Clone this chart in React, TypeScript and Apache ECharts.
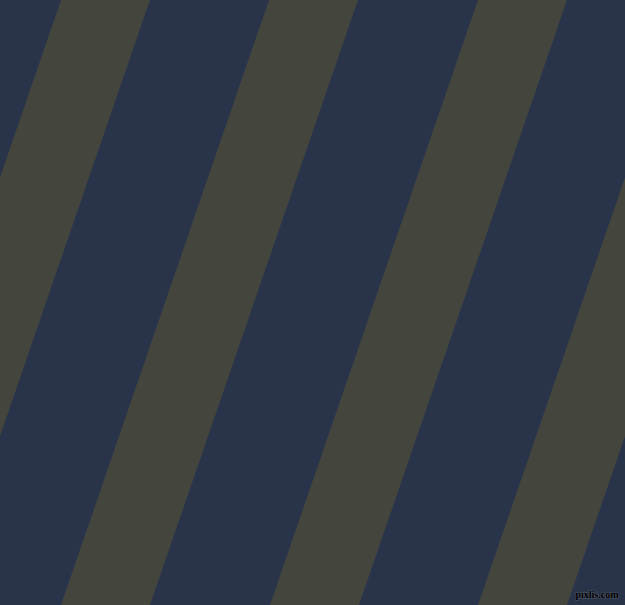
import React, { useRef, useEffect } from 'react';
import * as echarts from 'echarts';

// top edge x of each grey band (left side), in pixels from the left
const bandStarts: number[] = [-147, 61, 269, 478, 686];
// horizontal width of a grey band
const bandWidths: number[] = [89, 89, 89, 89, 89];
// how far a band drifts left between the top and the bottom
const bandDrift = 208;

const WIDTH = 625;
const HEIGHT = 605;
const NAVY = '#29344b';
const GREY = '#44463e';

const App: React.FC = () => {
    const chartRef = useRef<HTMLDivElement>(null);

    useEffect(() => {
        if (!chartRef.current) return;
        const chart = echarts.init(chartRef.current, null, { renderer: 'svg' });

        const option: echarts.EChartsOption = {
            animation: false,
            backgroundColor: NAVY,
            grid: { left: 0, right: 0, top: 0, bottom: 0 },
            xAxis: { type: 'value', min: 0, max: WIDTH, show: false },
            yAxis: { type: 'value', min: 0, max: HEIGHT, inverse: true, show: false },
            series: [
                {
                    type: 'custom',
                    clip: true,
                    data: bandStarts.map((s, i) => [s, bandWidths[i]]),
                    renderItem: (params: any, api: any) => {
                        const x0 = api.value(0);
                        const w = api.value(1);
                        const pts = [
                            api.coord([x0, 0]),
                            api.coord([x0 + w, 0]),
                            api.coord([x0 + w - bandDrift, HEIGHT]),
                            api.coord([x0 - bandDrift, HEIGHT])
                        ];
                        return {
                            type: 'polygon',
                            shape: { points: pts },
                            style: { fill: GREY }
                        };
                    }
                }
            ],
            graphic: [
                {
                    type: 'text',
                    right: 6,
                    bottom: 5,
                    style: {
                        text: 'pixlis.com',
                        fill: '#000000',
                        stroke: 'rgba(150,150,150,0.35)',
                        lineWidth: 1,
                        font: 'bold 10px "Liberation Sans Narrow"'
                    }
                }
            ]
        };

        chart.setOption(option);
        return () => {
            chart.dispose();
        };
    }, []);

    return (
        <div
            ref={chartRef}
            style={{ position: 'fixed', left: 0, top: 0, width: WIDTH, height: HEIGHT }}
        />
    );
};

export default App;
